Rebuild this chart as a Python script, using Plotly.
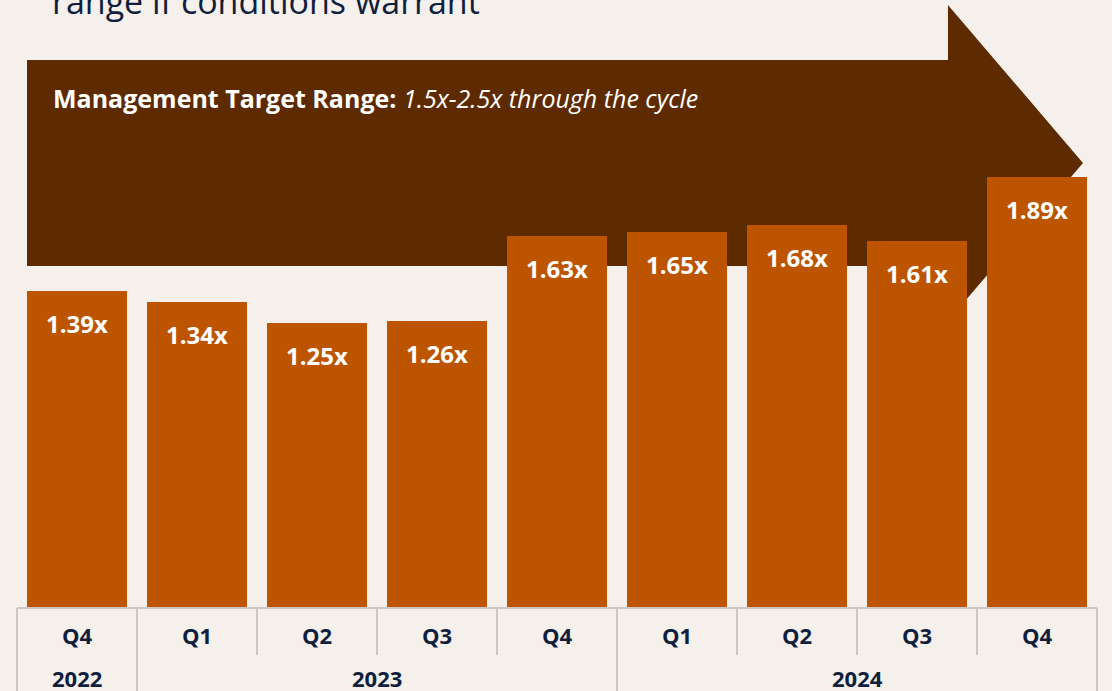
import plotly.graph_objects as go

quarters = ["Q4", "Q1", "Q2", "Q3", "Q4", "Q1", "Q2", "Q3", "Q4"]
years = ["2022", "2023", "2024"]
year_spans = [1, 4, 4]
values = [1.39, 1.34, 1.25, 1.26, 1.63, 1.65, 1.68, 1.61, 1.89]
labels = [f"{v:.2f}x" for v in values]
title_tail = "range if conditions warrant"
target_bold = "Management Target Range:"
target_italic = "1.5x-2.5x through the cycle"

BG = "#f5f0ec"
BAR = "#bd5500"
ARROW = "#5e2a00"
NAVY = "#0f1e3c"
GRID = "#c9c6c3"
FONT = "Open Sans"

x = list(range(len(values)))
n = len(values)

fig = go.Figure()
fig.add_trace(go.Bar(x=x, y=values, marker=dict(color=BAR, line=dict(width=0)),
                     width=100/120, hoverinfo="skip"))

# value labels
for xi, v, t in zip(x, values, labels):
    fig.add_annotation(x=xi, y=v, text=f"<b>{t}</b>", showarrow=False,
                       xanchor="center", yanchor="top", yshift=-14,
                       font=dict(family=FONT, size=24, color="white"))

# arrow shape (data coordinates)
xl, xb, xt = -0.4167, 7.258, 8.383
y_top, y_bot = 2.404, 1.50
y_htop, y_tip, y_hbot = 2.645, 1.952, 1.259
path = (f"M {xl},{y_top} L {xb},{y_top} L {xb},{y_htop} L {xt},{y_tip} "
        f"L {xb},{y_hbot} L {xb},{y_bot} L {xl},{y_bot} Z")
fig.add_shape(type="path", path=path, xref="x", yref="y",
              fillcolor=ARROW, line=dict(width=0), layer="below")

fig.add_annotation(x=(51-17)/120 - 0.5, y=(608-98)/228, xref="x", yref="y",
                   text=f"<b>{target_bold}</b> <i>{target_italic}</i>",
                   showarrow=False, xanchor="left", yanchor="middle",
                   font=dict(family=FONT, size=25, color="white"))

# title fragment at top
fig.add_annotation(x=(50-17)/1080, y=(608-1)/608, xref="paper", yref="paper",
                   text=title_tail, showarrow=False, xanchor="left", yanchor="middle",
                   font=dict(family=FONT, size=34, color=NAVY))

# table below axis
H = 608.0
def py(p):
    return -(p - 608) / H

fig.add_shape(type="line", xref="paper", yref="paper", x0=0, x1=1,
              y0=0, y1=0, line=dict(color=GRID, width=2))
year_bounds = [0]
for s in year_spans:
    year_bounds.append(year_bounds[-1] + s)
for i in range(n + 1):
    bottom = 691 if i in year_bounds else 655
    fig.add_shape(type="line", xref="paper", yref="paper", x0=i/n, x1=i/n,
                  y0=0, y1=py(bottom), line=dict(color=GRID, width=2))
for i, q in enumerate(quarters):
    fig.add_annotation(x=(i+0.5)/n, y=py(635), xref="paper", yref="paper",
                       text=f"<b>{q}</b>", showarrow=False,
                       xanchor="center", yanchor="middle",
                       font=dict(family=FONT, size=22, color=NAVY))
for k, yr in enumerate(years):
    c = (year_bounds[k] + year_bounds[k+1]) / 2
    fig.add_annotation(x=c/n, y=py(678), xref="paper", yref="paper",
                       text=f"<b>{yr}</b>", showarrow=False,
                       xanchor="center", yanchor="middle",
                       font=dict(family=FONT, size=22, color=NAVY))

fig.update_layout(
    width=1112, height=691,
    margin=dict(l=17, r=15, t=0, b=83),
    paper_bgcolor=BG, plot_bgcolor="rgba(0,0,0,0)",
    showlegend=False,
    xaxis=dict(range=[-0.5, 8.5], visible=False, fixedrange=True),
    yaxis=dict(range=[0, 608/228], visible=False, fixedrange=True),
    bargap=0,
)

fig.write_html("out.html", config={"displayModeBar": False},
               post_script="document.body.style.margin='0';document.body.style.overflow='hidden';")
